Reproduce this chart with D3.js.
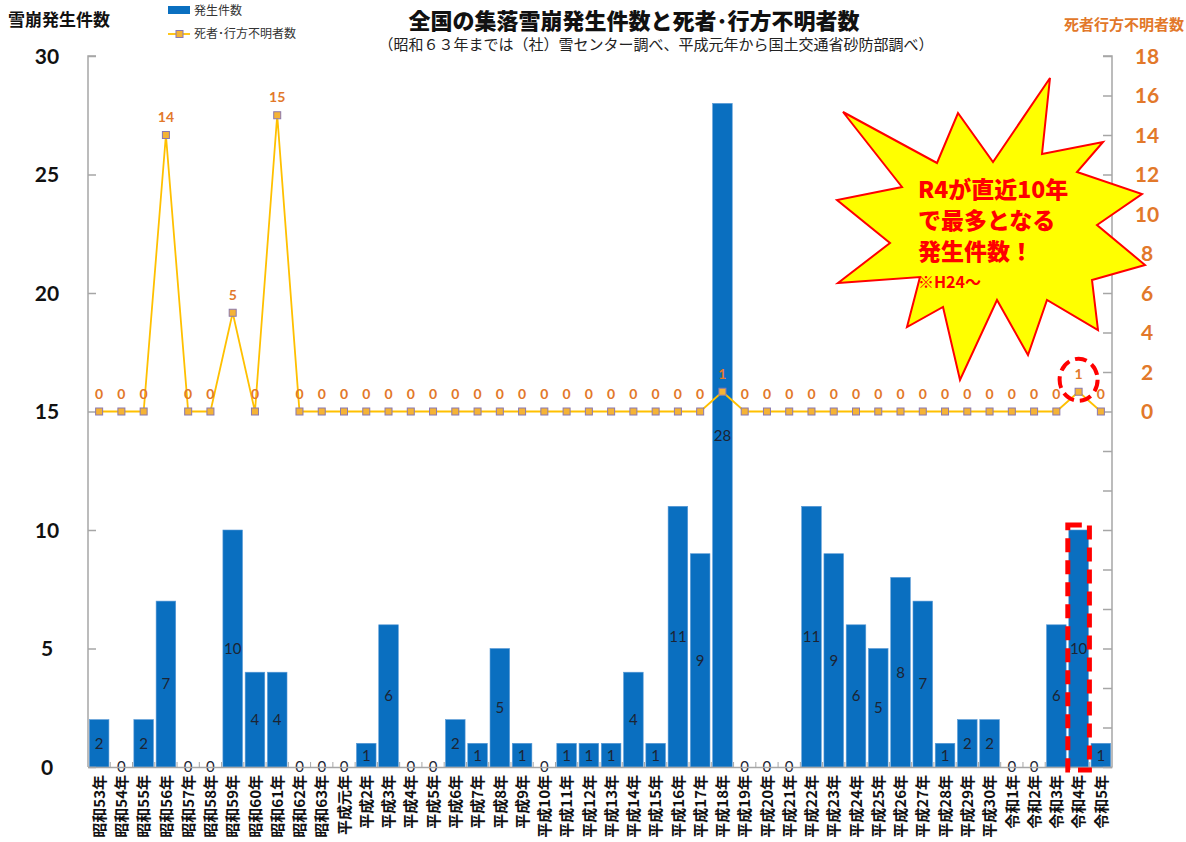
<!DOCTYPE html>
<html><head><meta charset="utf-8">
<script src="https://cdn.jsdelivr.net/npm/d3@7"></script>
<style>body{margin:0;background:#fff}svg{display:block}</style>
</head><body><svg id="c" width="1186" height="842"></svg>
<script>
const categories = ["昭和53年","昭和54年","昭和55年","昭和56年","昭和57年","昭和58年","昭和59年","昭和60年","昭和61年","昭和62年","昭和63年","平成元年","平成2年","平成3年","平成4年","平成5年","平成6年","平成7年","平成8年","平成9年","平成10年","平成11年","平成12年","平成13年","平成14年","平成15年","平成16年","平成17年","平成18年","平成19年","平成20年","平成21年","平成22年","平成23年","平成24年","平成25年","平成26年","平成27年","平成28年","平成29年","平成30年","令和1年","令和2年","令和3年","令和4年","令和5年"];
const occurrences = [2,0,2,7,0,0,10,4,4,0,0,0,1,6,0,0,2,1,5,1,0,1,1,1,4,1,11,9,28,0,0,0,11,9,6,5,8,7,1,2,2,0,0,6,10,1];
const casualties = [0,0,0,14,0,0,5,0,15,0,0,0,0,0,0,0,0,0,0,0,0,0,0,0,0,0,0,0,1,0,0,0,0,0,0,0,0,0,0,0,0,0,0,0,1,0];
const leftTicks = [0,5,10,15,20,25,30];
const rightTicks = [-18,-16,-14,-12,-10,-8,-6,-4,-2,0,2,4,6,8,10,12,14,16,18];
const title = "全国の集落雪崩発生件数と死者･行方不明者数";
const subtitle = "（昭和６３年までは（社）雪センター調べ、平成元年から国土交通省砂防部調べ）";
const seriesNames = ["発生件数","死者･行方不明者数"];
const calloutLines = ["R4が直近10年","で最多となる","発生件数！"];
const calloutNote = "※H24～";
const highlight = "令和4年";

const svg = d3.select("#c");
const JP = "'Noto Sans CJK JP', sans-serif";
const NUM = "Lato, 'Open Sans', sans-serif";
const L = 88, R = 1112, T = 56, B = 767;
const x = d3.scaleBand().domain(categories).range([L, R]).paddingInner(0.12).paddingOuter(0.06);
const yL = d3.scaleLinear().domain([0, 30]).range([B, T]);
const yR = d3.scaleLinear().domain([-18, 18]).range([B, T]);
const orange = "#E2782A", blue = "#0A6FC0", gold = "#FFC000";

// bars
svg.append("g").selectAll("rect").data(occurrences).join("rect")
  .attr("x", (d,i) => x(categories[i])).attr("width", x.bandwidth())
  .attr("y", d => yL(d)).attr("height", d => B - yL(d))
  .attr("fill", blue).attr("stroke", "#5a9ad6").attr("stroke-width", 0.6);

// bar labels
svg.append("g").selectAll("text").data(occurrences).join("text")
  .attr("x", (d,i) => x(categories[i]) + x.bandwidth()/2)
  .attr("y", d => d === 0 ? B : (yL(d) + B)/2)
  .attr("dy", "0.36em").attr("text-anchor", "middle")
  .attr("font-family", NUM).attr("font-size", 15).attr("fill", "#1c2433")
  .text(d => d);

// left axis
const gl = svg.append("g").attr("transform", `translate(${L},0)`)
  .call(d3.axisRight(yL).tickValues(leftTicks).tickSize(8).tickFormat(""));
gl.selectAll("path,line").attr("stroke", "#a6a6a6").attr("stroke-width", 1.5);
gl.select(".domain").attr("d", `M8,${T}H0V${B}`);
svg.append("g").selectAll("text").data(leftTicks).join("text")
  .attr("x", 47).attr("y", d => yL(d)).attr("dy", "0.36em").attr("text-anchor", "middle")
  .attr("font-family", NUM).attr("font-weight", 700).attr("font-size", 21).attr("fill", "#111")
  .text(d => d);

// right axis
const gr = svg.append("g").attr("transform", `translate(${R},0)`)
  .call(d3.axisLeft(yR).tickValues(rightTicks).tickSize(9).tickFormat(""));
gr.selectAll("path,line").attr("stroke", "#a6a6a6").attr("stroke-width", 1.5);
gr.select(".domain").attr("d", `M-9,${T}H0V${B}`);
svg.append("g").selectAll("text").data(rightTicks.filter(d => d >= 0)).join("text")
  .attr("x", 1147).attr("y", d => yR(d)).attr("dy", "0.36em").attr("text-anchor", "middle")
  .attr("font-family", NUM).attr("font-weight", 700).attr("font-size", 21).attr("fill", orange)
  .text(d => d);

// x axis
const gx = svg.append("g").attr("transform", `translate(0,${B})`)
  .call(d3.axisBottom(x).tickSize(0).tickFormat(""));
gx.select(".domain").attr("stroke", "#a6a6a6").attr("stroke-width", 1.5);
svg.append("g").selectAll("line").data(categories.slice(1)).join("line")
  .attr("x1", d => x(d) - x.step()*x.paddingInner()/2).attr("x2", d => x(d) - x.step()*x.paddingInner()/2)
  .attr("y1", B).attr("y2", B - 5).attr("stroke", "#a6a6a6").attr("stroke-width", 1);
const maxLen = 64;
svg.append("g").selectAll("text").data(categories).join("text")
  .attr("transform", d => `translate(${x(d) + x.bandwidth()/2},775) rotate(-90)`)
  .attr("text-anchor", "end").attr("dy", "0.38em")
  .attr("font-family", JP).attr("font-size", 15).attr("font-weight", 700).attr("fill", "#111")
  .text(d => d)
  .each(function() {
    const len = this.getComputedTextLength();
    if (len > maxLen) d3.select(this).attr("textLength", maxLen).attr("lengthAdjust", "spacingAndGlyphs");
  });

// line series
const line = d3.line().x((d,i) => x(categories[i]) + x.bandwidth()/2).y(d => yR(d));
svg.append("path").datum(casualties).attr("d", line)
  .attr("fill", "none").attr("stroke", gold).attr("stroke-width", 1.8);
svg.append("g").selectAll("rect").data(casualties).join("rect")
  .attr("x", (d,i) => x(categories[i]) + x.bandwidth()/2 - 3.5)
  .attr("y", d => yR(d) - 3.5).attr("width", 7).attr("height", 7)
  .attr("fill", "#F5B335").attr("stroke", "#8a78b0").attr("stroke-width", 1);
svg.append("g").selectAll("text").data(casualties).join("text")
  .attr("x", (d,i) => x(categories[i]) + x.bandwidth()/2)
  .attr("y", d => yR(d) - 18).attr("dy", "0.36em").attr("text-anchor", "middle")
  .attr("font-family", NUM).attr("font-weight", 700).attr("font-size", 14).attr("fill", orange)
  .text(d => d);

// titles
svg.append("text").attr("x", 634).attr("y", 29).attr("text-anchor", "middle")
  .attr("font-family", JP).attr("font-weight", 900).attr("font-size", 22).attr("fill", "#111").text(title);
svg.append("text").attr("x", 656).attr("y", 50).attr("text-anchor", "middle")
  .attr("font-family", JP).attr("font-size", 15).attr("fill", "#222").text(subtitle);
svg.append("text").attr("x", 8).attr("y", 26)
  .attr("font-family", JP).attr("font-weight", 700).attr("font-size", 17).attr("fill", "#111").text("雪崩発生件数");
svg.append("text").attr("x", 1184).attr("y", 30).attr("text-anchor", "end")
  .attr("font-family", JP).attr("font-weight", 700).attr("font-size", 15).attr("fill", orange).text("死者行方不明者数");

// legend
const lg = svg.append("g");
lg.append("rect").attr("x", 168).attr("y", 6).attr("width", 22).attr("height", 8).attr("fill", blue);
lg.append("text").attr("x", 194).attr("y", 15).attr("font-family", JP).attr("font-size", 12).attr("fill", "#333").text(seriesNames[0]);
lg.append("line").attr("x1", 168).attr("x2", 190).attr("y1", 34).attr("y2", 34).attr("stroke", gold).attr("stroke-width", 1.8);
lg.append("rect").attr("x", 176).attr("y", 30.5).attr("width", 7).attr("height", 7).attr("fill", "#F5B335").attr("stroke", "#8a78b0");
lg.append("text").attr("x", 194).attr("y", 38).attr("font-family", JP).attr("font-size", 12).attr("fill", "#333").text(seriesNames[1]);

// starburst callout
const star = [[843,112],[937,163],[958,113],[993,162],[1050,78],[1042,154],[1103,142],[1077,172],[1142,194],[1097,225],[1145,265],[1092,280],[1098,330],[1047,300],[1028,355],[997,300],[960,380],[943,307],[907,327],[920,277],[838,283],[890,243],[837,200],[902,187]];
svg.append("polygon").attr("points", star.map(p => p.join(",")).join(" "))
  .attr("fill", "#FFFF00").attr("stroke", "#FF0000").attr("stroke-width", 2).attr("stroke-linejoin", "miter");
svg.append("g").selectAll("text").data(calloutLines).join("text")
  .attr("x", 918).attr("y", (d,i) => 198 + i*31)
  .attr("font-family", JP).attr("font-weight", 900).attr("font-size", 23).attr("fill", "#FF0000").text(d => d);
svg.append("text").attr("x", 918).attr("y", 288)
  .attr("font-family", JP).attr("font-weight", 700).attr("font-size", 16).attr("fill", "#FF0000").text(calloutNote);

// highlight marks
const hx = x(highlight) + x.bandwidth()/2;
svg.append("ellipse").attr("cx", hx).attr("cy", yR(1) - 12).attr("rx", 19).attr("ry", 21)
  .attr("fill", "none").attr("stroke", "#FF0000").attr("stroke-width", 4).attr("stroke-dasharray", "12,6");
svg.append("rect").attr("x", x(highlight) - 1).attr("y", yL(10) - 5).attr("width", x.bandwidth() + 2).attr("height", B - yL(10) + 8)
  .attr("fill", "none").attr("stroke", "#FF0000").attr("stroke-width", 5).attr("stroke-dasharray", "14,8");
</script></body></html>
